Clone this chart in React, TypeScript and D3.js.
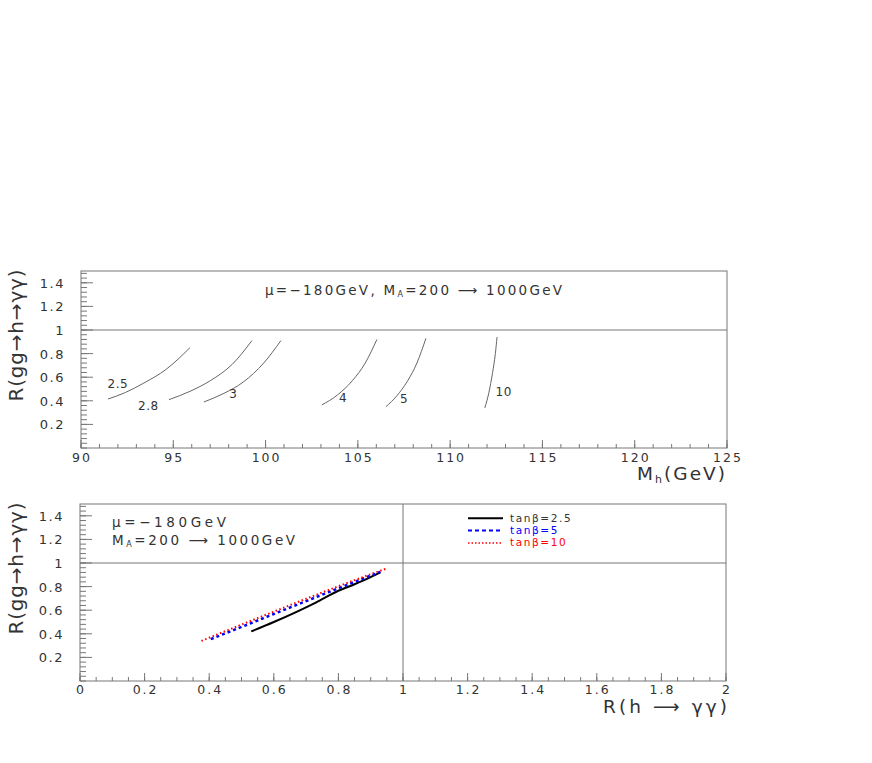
import * as d3 from 'd3'

// top panel: R(gg->h->gg) vs M_h for several tan(beta)
const massTicks = [90, 95, 100, 105, 110, 115, 120, 125]
const ratioTicks = [0.2, 0.4, 0.6, 0.8, 1, 1.2, 1.4]
const ratioTickLabels = ['0.2', '0.4', '0.6', '0.8', '1', '1.2', '1.4']
const tanbLabels = ['2.5', '2.8', '3', '4', '5', '10']

const curveTb25 = [[91.46, 0.415], [92.4, 0.47], [93.4, 0.55], [94.6, 0.665], [95.9, 0.85]]
const curveTb28 = [[94.77, 0.41], [95.9, 0.48], [97.0, 0.57], [98.2, 0.71], [99.26, 0.91]]
const curveTb3 = [[96.66, 0.39], [97.7, 0.46], [98.8, 0.56], [99.9, 0.72], [100.83, 0.91]]
const curveTb4 = [[103.05, 0.365], [103.9, 0.45], [104.7, 0.57], [105.4, 0.72], [106.03, 0.92]]
const curveTb5 = [[106.52, 0.35], [107.1, 0.44], [107.7, 0.57], [108.2, 0.72], [108.69, 0.93]]
const curveTb10 = [[111.88, 0.34], [112.1, 0.47], [112.3, 0.64], [112.45, 0.8], [112.54, 0.94]]
const massCurves = [curveTb25, curveTb28, curveTb3, curveTb4, curveTb5, curveTb10]
const labelSpots = [[92.0, 0.51], [93.65, 0.32], [98.25, 0.42], [104.2, 0.39], [107.5, 0.38], [112.9, 0.44]]

// bottom panel: R(gg->h->gg) vs R(h->gg)
const rTicks = [0, 0.2, 0.4, 0.6, 0.8, 1, 1.2, 1.4, 1.6, 1.8, 2]
const rTickLabels = ['0', '0.2', '0.4', '0.6', '0.8', '1', '1.2', '1.4', '1.6', '1.8', '2']
const seriesTb25 = [[0.53, 0.42], [0.6, 0.5], [0.73, 0.665], [0.8, 0.765], [0.85, 0.82], [0.9, 0.88], [0.93, 0.92]]
const seriesTb5 = [[0.405, 0.355], [0.5, 0.458], [0.6, 0.568], [0.7, 0.677], [0.8, 0.786], [0.9, 0.893], [0.93, 0.925]]
const seriesTb10 = [[0.376, 0.34], [0.5, 0.478], [0.6, 0.588], [0.7, 0.697], [0.8, 0.803], [0.9, 0.905], [0.946, 0.95]]
const legendNames = ['tanβ=2.5', 'tanβ=5', 'tanβ=10']
const legendColors = ['#000', '#0000ff', '#ff0000']

const FONT = 'DejaVu Sans'
const GREY = '#777'
const INK = '#333'

function Frame({ x, y, xMinor, yMinor, xMajor, xLabels, labelGap }: any) {
  const [x0, x1] = x.range()
  const [y0, y1] = y.range()
  return (
    <g>
      <rect x={x0} y={y1} width={x1 - x0} height={y0 - y1} fill="none" stroke={GREY} />
      {xMinor.map((t: number, i: number) => (
        <line key={'xm' + i} x1={x(t)} x2={x(t)} y1={y0} y2={y0 - 4} stroke={GREY} />
      ))}
      {xMajor.map((t: number, i: number) => (
        <line key={'xM' + i} x1={x(t)} x2={x(t)} y1={y0} y2={y0 - 8} stroke={GREY} />
      ))}
      {yMinor.map((t: number, i: number) => (
        <line key={'ym' + i} x1={x0} x2={x0 + 6} y1={y(t)} y2={y(t)} stroke={GREY} />
      ))}
      {ratioTicks.map((t, i) => (
        <line key={'yM' + i} x1={x0} x2={x0 + 12} y1={y(t)} y2={y(t)} stroke={GREY} />
      ))}
      {xMajor.map((t: number, i: number) => (
        <text key={'xl' + i} x={x(t) + 1} y={y0 + labelGap} textAnchor="middle" fontSize={12.5}
          fontFamily={FONT} fill={INK} letterSpacing={2}>{xLabels[i]}</text>
      ))}
      {ratioTicks.map((t, i) => (
        <text key={'yl' + i} x={x0 - 16} y={y(t) + 5} textAnchor="end" fontSize={13}
          fontFamily={FONT} fill={INK} letterSpacing={1.5}>{ratioTickLabels[i]}</text>
      ))}
      <line x1={x0} x2={x1} y1={y(1)} y2={y(1)} stroke={GREY} />
      <text transform={`translate(23,${(y0 + y1) / 2 - 24}) rotate(-90)`} textAnchor="middle"
        fontSize={20} fontFamily={FONT} fill={INK} textLength={132} lengthAdjust="spacing">
        R(gg{'\u2192'}h{'\u2192'}γγ)
      </text>
    </g>
  )
}

export default function App() {
  const line = d3.line().curve(d3.curveMonotoneX)
  const xTop = d3.scaleLinear().domain([90, 125]).range([81, 727])
  const yTop = d3.scaleLinear().domain([0, 1.5]).range([448, 271])
  const xBot = d3.scaleLinear().domain([0, 2]).range([80, 726])
  const yBot = d3.scaleLinear().domain([0, 1.5]).range([681, 504])

  const pTop = (pts: number[][]) => line(pts.map(p => [xTop(p[0]), yTop(p[1])]) as any) || ''
  const pBot = (pts: number[][]) => line(pts.map(p => [xBot(p[0]), yBot(p[1])]) as any) || ''

  const yMinor = d3.range(0, 1.501, 0.04)
  const legY = [1.38, 1.275, 1.17]

  return (
    <svg width={872} height={763} style={{ position: 'absolute', left: 0, top: 0, background: '#fff' }}>
      {/* top panel */}
      <Frame x={xTop} y={yTop} xMinor={d3.range(90, 125.01, 1)} yMinor={yMinor}
        xMajor={massTicks} xLabels={massTicks.map(String)} labelGap={13.5} />
      {massCurves.map((c, i) => (
        <path key={i} d={pTop(c)} fill="none" stroke="#666" strokeWidth={1} />
      ))}
      {tanbLabels.map((t, i) => (
        <text key={t} x={xTop(labelSpots[i][0])} y={yTop(labelSpots[i][1])} textAnchor="middle"
          fontSize={12} fontFamily={FONT} fill={INK} letterSpacing={0.5}>{t}</text>
      ))}
      <text x={265} y={295} fontSize={13.5} fontFamily={FONT} fill={INK} textLength={297} lengthAdjust="spacing">
        μ=−180GeV, M<tspan fontSize={8} dy={2}>A</tspan><tspan dy={-2}>=200 {'\u27F6'} 1000GeV</tspan>
      </text>
      <text x={637} y={480} fontSize={18.5} fontFamily={FONT} fill={INK} textLength={88} lengthAdjust="spacing">
        M<tspan fontSize={11} dy={3}>h</tspan><tspan dy={-3}>(GeV)</tspan>
      </text>

      {/* bottom panel */}
      <Frame x={xBot} y={yBot} xMinor={d3.range(0, 2.001, 0.05)} yMinor={yMinor}
        xMajor={rTicks} xLabels={rTickLabels} labelGap={13} />
      <line x1={xBot(1)} x2={xBot(1)} y1={yBot(0)} y2={yBot(1.5)} stroke={GREY} />
      <path d={pBot(seriesTb25)} fill="none" stroke="#000" strokeWidth={2} />
      <path d={pBot(seriesTb5)} fill="none" stroke="#0000ff" strokeWidth={2.5} strokeDasharray="3,3" />
      <path d={pBot(seriesTb10)} fill="none" stroke="#ff0000" strokeWidth={2} strokeDasharray="1.5,2.5" />

      <text x={112} y={527} fontSize={13.5} fontFamily={FONT} fill={INK} textLength={114} lengthAdjust="spacing">
        μ=−180GeV
      </text>
      <text x={112} y={545} fontSize={13.5} fontFamily={FONT} fill={INK} textLength={183} lengthAdjust="spacing">
        M<tspan fontSize={8} dy={2}>A</tspan><tspan dy={-2}>=200 {'\u27F6'} 1000GeV</tspan>
      </text>

      {legendNames.map((n, i) => (
        <g key={n}>
          <line x1={468} x2={503} y1={yBot(legY[i])} y2={yBot(legY[i])}
            stroke={legendColors[i]} strokeWidth={i === 2 ? 1.5 : 2}
            strokeDasharray={i === 0 ? undefined : i === 1 ? '4,3' : '1.5,2'} />
          <text x={510} y={yBot(legY[i]) + 3.5} fontSize={10.5} fontFamily={FONT}
            fill={i === 0 ? INK : legendColors[i]} letterSpacing={1.6}>{n}</text>
        </g>
      ))}
      <text x={603} y={713} fontSize={18.5} fontFamily={FONT} fill={INK} textLength={124} lengthAdjust="spacing">
        R(h {'\u27F6'} γγ)
      </text>
    </svg>
  )
}
